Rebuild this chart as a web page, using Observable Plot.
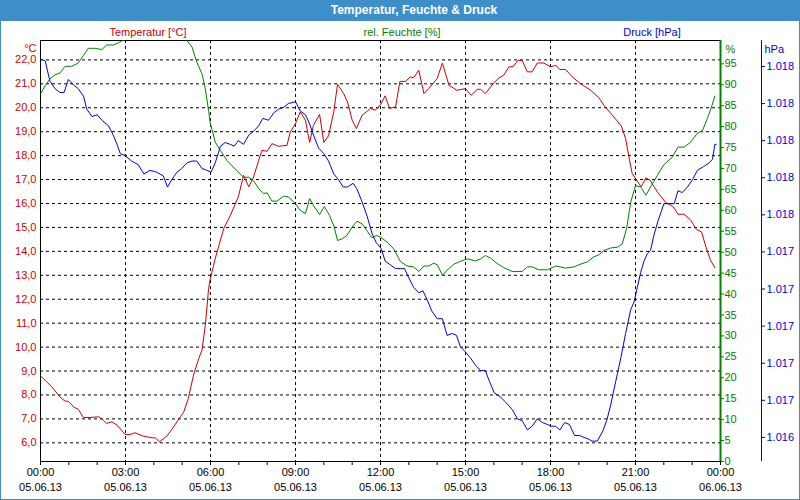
<!DOCTYPE html>
<html><head><meta charset="utf-8">
<script src="https://cdn.jsdelivr.net/npm/d3@7"></script>
<script src="https://cdn.jsdelivr.net/npm/@observablehq/plot@0.6"></script>
<style>
html,body{margin:0;padding:0;background:#fff;}
#win{position:relative;width:800px;height:500px;overflow:hidden;background:#fff;font-family:"Liberation Sans",Arial,sans-serif;}
#title{position:absolute;left:0;top:0;width:800px;height:21px;background:#3d8ec9;}
#title span{position:absolute;left:414px;top:0;transform:translateX(-50%);color:#fff;font-weight:bold;font-size:12px;line-height:21px;white-space:nowrap;}
.leg{position:absolute;top:25px;font-size:11px;line-height:14px;transform:translateX(-50%);white-space:nowrap;}
.layer{position:absolute;left:0;top:38px;}
#border{position:absolute;left:0;top:0;width:800px;height:500px;box-sizing:border-box;border:1px solid #3d8ec9;pointer-events:none;}
</style></head>
<body>
<div id="win">
  <div id="title"><span id="ttl"></span></div>
</div>
<script>
// ---------- data ----------
const chartTitle = "Temperatur, Feuchte & Druck";
const seriesNames = ["Temperatur [°C]", "rel. Feuchte [%]", "Druck [hPa]"];
const seriesColors = ["#cc0000", "#008000", "#0000dd"];
const unitLabels = ["°C", "%", "hPa"];

// x ticks (hours) and their two-line labels
const xMajorHours = [0, 3, 6, 9, 12, 15, 18, 21, 24];
const xTickTimes = ["00:00", "03:00", "06:00", "09:00", "12:00", "15:00", "18:00", "21:00", "00:00"];
const xTickDates = ["05.06.13", "05.06.13", "05.06.13", "05.06.13", "05.06.13", "05.06.13", "05.06.13", "05.06.13", "06.06.13"];
const xMinorHours = [0,1,2,3,4,5,6,7,8,9,10,11,12,13,14,15,16,17,18,19,20,21,22,23,24];

const tempTicks = [6,7,8,9,10,11,12,13,14,15,16,17,18,19,20,21,22];
const humTicks = [0,5,10,15,20,25,30,35,40,45,50,55,60,65,70,75,80,85,90,95];
const presTicks = [1016.4,1016.6,1016.8,1017.0,1017.2,1017.4,1017.6,1017.8,1018.0,1018.2,1018.4];

// Temperature: minutes after 05.06.13 00:00, °C
const tempMin = [0,13,24,41,52,59,70,80,91,105,123,133,140,151,162,179,190,200,218,236,243,252,268,282,296,303,313,324,335,342,349,356,359,370,388,402,419,430,441,450,462,469,480,490,504,522,529,540,550,561,570,578,591,600,610,621,629,642,650,660,669,681,699,709,720,730,739,752,761,773,783,790,801,812,822,840,851,865,882,900,912,925,932,942,960,971,981,992,1001,1011,1020,1031,1041,1052,1066,1080,1091,1100,1112,1126,1144,1165,1183,1193,1211,1230,1239,1246,1253,1260,1272,1282,1291,1306,1324,1340,1350,1363,1377,1389,1400,1409,1419,1428];
const tempVal = [8.8,8.55,8.34,7.92,7.74,7.74,7.5,7.4,7.06,7.06,7.09,6.95,6.81,6.88,6.74,6.35,6.35,6.42,6.28,6.21,6.21,6.04,6.29,6.67,7.09,7.27,7.85,8.83,9.52,9.87,10.91,12.45,12.8,13.7,14.95,15.5,16.28,17.18,16.7,17.04,17.8,18.22,18.18,18.5,18.39,18.43,18.99,19.34,19.83,19.48,18.55,19.27,19.72,18.55,18.83,19.83,20.98,20.59,20.25,19.48,19.13,19.69,19.97,19.9,20.13,20.5,19.97,20.04,21.1,21.1,21.29,21.25,21.57,20.59,20.8,21.22,21.87,20.94,20.73,20.8,20.52,20.77,20.77,20.59,21.04,21.25,21.36,21.71,21.72,21.98,21.98,21.5,21.5,21.87,21.87,21.71,21.77,21.6,21.6,21.29,21.0,20.73,20.41,20.1,19.69,19.24,18.71,17.95,17.25,17.04,16.7,17.07,16.97,16.49,16.04,15.86,15.55,15.55,15.3,14.92,14.81,14.19,13.63,13.31];

// Relative humidity: minutes, %
const humMin = [0,10,20,31,41,52,66,80,91,101,116,130,140,154,165,174,190,300,310,321,331,342,349,356,359,370,381,395,412,430,441,451,462,472,480,490,501,515,525,540,550,561,570,580,591,601,612,622,629,639,649,660,670,681,692,702,711,720,734,748,762,776,790,801,812,822,833,841,851,861,875,893,905,921,932,942,953,967,981,999,1020,1031,1041,1055,1073,1091,1112,1130,1140,1158,1172,1183,1193,1207,1222,1232,1241,1250,1260,1271,1282,1292,1306,1320,1338,1350,1363,1377,1390,1402,1412,1421,1428];
const humVal = [87.8,89.8,91.4,92.4,92.8,94.4,94.4,95.2,97.0,98.7,98.7,98.4,99.5,99.5,100.0,100.6,101.5,101.5,100.6,99.0,95.4,92.6,89.0,83.8,81.1,76.3,74.3,71.9,69.9,67.9,67.9,67.1,65.2,64.0,64.2,62.2,62.2,63.4,63.2,61.6,60.0,59.2,62.8,60.8,59.0,60.9,58.8,56.0,52.8,53.2,54.0,56.0,57.4,56.8,55.0,53.4,54.0,53.6,52.4,50.8,47.8,46.7,46.5,45.4,46.7,46.7,47.4,46.9,44.5,45.7,47.1,48.0,48.4,47.9,48.4,49.2,48.6,47.3,46.3,45.4,45.4,46.5,46.5,45.8,45.8,46.7,46.2,46.5,47.0,47.7,48.9,49.4,50.4,51.0,51.2,52.0,55.6,62.0,65.9,65.6,63.6,65.6,68.3,70.9,72.7,75.1,75.1,76.3,78.3,79.1,81.9,84.7,87.3];

// Pressure: minutes, hPa
const presMin = [0,10,20,31,41,50,59,70,80,91,98,109,120,130,144,154,162,169,179,193,207,219,232,246,260,269,278,289,299,310,321,331,342,352,361,370,381,391,402,410,419,430,441,451,462,471,483,494,504,515,525,540,550,561,570,578,589,600,610,621,631,641,650,662,670,681,692,702,711,721,730,741,752,762,771,780,790,801,810,819,829,840,851,861,872,881,889,900,910,921,932,942,951,961,973,985,999,1010,1020,1031,1041,1052,1063,1073,1082,1091,1100,1110,1120,1131,1142,1151,1161,1168,1179,1190,1199,1207,1218,1229,1239,1250,1257,1264,1271,1278,1285,1292,1299,1308,1315,1320,1342,1350,1359,1370,1381,1391,1404,1416,1423,1428,1431];
const presVal = [1018.44,1018.43,1018.32,1018.28,1018.26,1018.26,1018.33,1018.30,1018.28,1018.24,1018.17,1018.13,1018.14,1018.11,1018.08,1018.03,1017.98,1017.93,1017.92,1017.89,1017.87,1017.82,1017.84,1017.83,1017.81,1017.75,1017.79,1017.83,1017.85,1017.88,1017.89,1017.89,1017.85,1017.84,1017.83,1017.88,1017.97,1017.99,1017.98,1017.97,1018.00,1017.98,1018.03,1018.05,1018.08,1018.12,1018.11,1018.15,1018.17,1018.18,1018.20,1018.21,1018.16,1018.14,1018.09,1018.03,1017.96,1017.93,1017.89,1017.82,1017.79,1017.75,1017.75,1017.77,1017.74,1017.67,1017.59,1017.50,1017.45,1017.42,1017.35,1017.33,1017.31,1017.31,1017.31,1017.26,1017.21,1017.18,1017.19,1017.14,1017.08,1017.04,1017.04,1016.95,1016.96,1016.95,1016.89,1016.86,1016.83,1016.79,1016.76,1016.76,1016.70,1016.64,1016.62,1016.59,1016.55,1016.50,1016.49,1016.44,1016.46,1016.50,1016.48,1016.47,1016.46,1016.46,1016.44,1016.48,1016.47,1016.41,1016.41,1016.40,1016.39,1016.38,1016.38,1016.43,1016.49,1016.57,1016.70,1016.83,1016.96,1017.09,1017.13,1017.21,1017.29,1017.35,1017.39,1017.41,1017.49,1017.57,1017.62,1017.66,1017.66,1017.73,1017.72,1017.75,1017.79,1017.84,1017.86,1017.88,1017.90,1017.98,1017.98];

// scale domains (axis ranges)
const xDomain = [0, 24];
const tempDomain = [5.22, 22.81];
const humDomain = [0, 100.57];
const presDomain = [1016.27, 1018.54];

// ---------- build ----------
const zip = (ts, vs) => ts.map((t, i) => ({h: t / 60, v: vs[i]}));
const temp = zip(tempMin, tempVal);
const hum = zip(humMin, humVal);
const pres = zip(presMin, presVal);

const de = d3.formatLocale({decimal: ",", thousands: ".", grouping: [3], currency: ["", " €"]});
const fmtTemp = de.format(".1f");
const fmtPres = de.format(",.0f");

const [cT, cH, cP] = seriesColors;
const common = {
  width: 800, height: 462,
  marginLeft: 40, marginRight: 80, marginTop: 2, marginBottom: 39,
  style: {background: "transparent", overflow: "visible", fontFamily: "'Liberation Sans', Arial, sans-serif", fontSize: "11px", color: "black"}
};
const dash = {stroke: "black", strokeOpacity: 1, strokeDasharray: "3,3"};

const chartT = Plot.plot({
  ...common,
  x: {domain: xDomain},
  y: {domain: tempDomain},
  marks: [
    Plot.gridY(tempTicks, dash),
    Plot.gridX(xMajorHours.slice(1, -1), dash),
    Plot.frame({stroke: "black"}),
    Plot.axisY(tempTicks, {anchor: "left", tickSize: 0, tickPadding: 4, tickFormat: fmtTemp, fill: cT, label: null}),
    Plot.text([unitLabels[0]], {frameAnchor: "top-left", dx: -4, dy: 4, textAnchor: "end", fill: cT}),
    Plot.axisX(xMinorHours, {anchor: "bottom", tickSize: 4, stroke: "black", fill: "none", label: null}),
    Plot.text(xMajorHours, {x: d => d, frameAnchor: "bottom", dy: 14, text: (d, i) => xTickTimes[i], fill: "black"}),
    Plot.text(xMajorHours, {x: d => d, frameAnchor: "bottom", dy: 29, text: (d, i) => xTickDates[i], fill: "black"}),
    Plot.line(temp, {x: "h", y: "v", stroke: cT, strokeWidth: 1, clip: true})
  ]
});

const chartH = Plot.plot({
  ...common,
  x: {domain: xDomain, axis: null},
  y: {domain: humDomain},
  marks: [
    Plot.line(hum, {x: "h", y: "v", stroke: cH, strokeWidth: 1, clip: true}),
    Plot.ruleX([xDomain[1]], {stroke: cH, strokeWidth: 2}),
    Plot.axisY(humTicks, {anchor: "right", tickSize: 3, tickPadding: 1, stroke: cH, fill: cH, label: null}),
    Plot.text([unitLabels[1]], {frameAnchor: "top-right", dx: 5, dy: 5, textAnchor: "start", fill: cH})
  ]
});

const chartP = Plot.plot({
  ...common,
  x: {domain: xDomain, axis: null},
  y: {domain: presDomain},
  marks: [
    Plot.line(pres, {x: "h", y: "v", stroke: cP, strokeWidth: 1, clip: true}),
    Plot.ruleX([xDomain[1]], {stroke: cP, dx: 41}),
    Plot.axisY(presTicks, {anchor: "right", dx: 41, tickSize: 3, tickPadding: 2, tickFormat: fmtPres, stroke: cP, fill: cP, label: null}),
    Plot.text([unitLabels[2]], {frameAnchor: "top-right", dx: 44, dy: 5, textAnchor: "start", fill: cP})
  ]
});

const win = document.getElementById("win");
document.getElementById("ttl").textContent = chartTitle;
const legX = [148, 402, 652];
seriesNames.forEach((n, i) => {
  const d = document.createElement("div");
  d.className = "leg";
  d.style.left = legX[i] + "px";
  d.style.color = seriesColors[i];
  d.textContent = n;
  win.appendChild(d);
});
[chartT, chartH, chartP].forEach(c => { c.classList.add("layer"); win.appendChild(c); });
const b = document.createElement("div"); b.id = "border"; win.appendChild(b);
</script>
</body></html>
